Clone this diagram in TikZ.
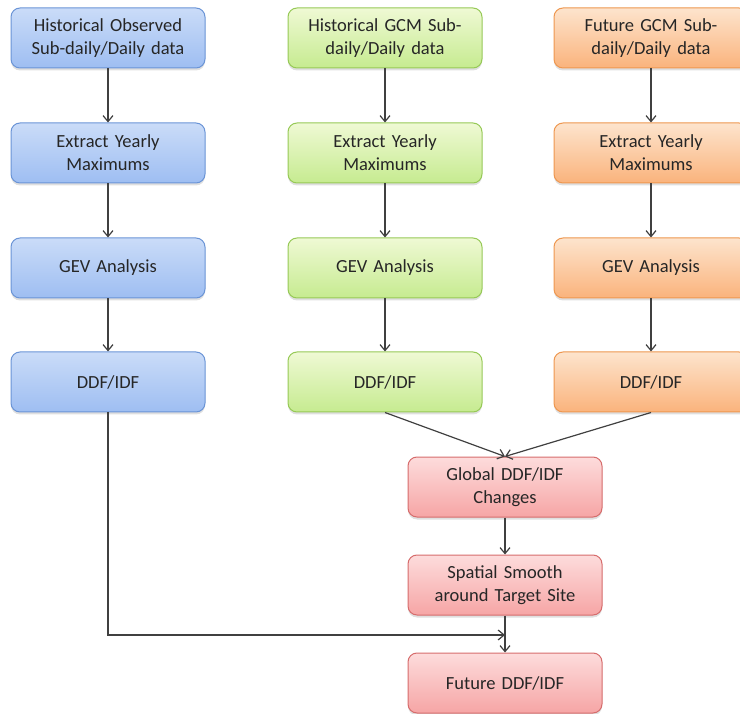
\documentclass[tikz,border=0pt]{standalone}
\usepackage{fontspec}
\setmainfont{Carlito}
\usetikzlibrary{shadows,arrows.meta}
\definecolor{obstop}{HTML}{CADCF8}
\definecolor{obsbot}{HTML}{9EBEF2}
\definecolor{obsline}{HTML}{6A94D6}
\definecolor{histop}{HTML}{EFF9D4}
\definecolor{hisbot}{HTML}{C6EB90}
\definecolor{hisline}{HTML}{96C956}
\definecolor{futtop}{HTML}{FDE4CD}
\definecolor{futbot}{HTML}{FAB37C}
\definecolor{futline}{HTML}{EE9750}
\definecolor{chgtop}{HTML}{FDDCDC}
\definecolor{chgbot}{HTML}{F6A5A5}
\definecolor{chgline}{HTML}{D66C6C}
\definecolor{txt}{HTML}{262626}
\tikzset{
    stage/.style={rectangle,rounded corners=9pt,minimum width=194pt,minimum height=60pt,
        text width=190pt,align=center,text=txt,inner sep=0pt,line width=1pt,
        font=\fontsize{18.5}{23}\selectfont,
        drop shadow={opacity=.25,shadow xshift=0pt,shadow yshift=-2.5pt}},
    obsbox/.style={stage,draw=obsline,top color=obstop,bottom color=obsbot},
    hisbox/.style={stage,draw=hisline,top color=histop,bottom color=hisbot},
    futbox/.style={stage,draw=futline,top color=futtop,bottom color=futbot},
    chgbox/.style={stage,draw=chgline,top color=chgtop,bottom color=chgbot},
    flow/.style={draw=black!75,line width=1.2pt,-{Straight Barb[length=6pt,width=10pt]}}
}
\begin{document}
\begin{tikzpicture}[x=1pt,y=-1pt]
        \useasboundingbox (0,0) rectangle (740,714);
        % three input columns
        \node[obsbox] (o1) at (108,38) {Historical Observed\\Sub-daily/Daily data};
        \node[obsbox] (o2) at (108,153) {Extract Yearly\\Maximums};
        \node[obsbox] (o3) at (108,268) {GEV Analysis};
        \node[obsbox] (o4) at (108,382) {DDF/IDF};
        \node[hisbox] (h1) at (385,38) {Historical GCM Sub-\\daily/Daily data};
        \node[hisbox] (h2) at (385,153) {Extract Yearly\\Maximums};
        \node[hisbox] (h3) at (385,268) {GEV Analysis};
        \node[hisbox] (h4) at (385,382) {DDF/IDF};
        \node[futbox] (f1) at (651,38) {Future GCM Sub-\\daily/Daily data};
        \node[futbox] (f2) at (651,153) {Extract Yearly\\Maximums};
        \node[futbox] (f3) at (651,268) {GEV Analysis};
        \node[futbox] (f4) at (651,382) {DDF/IDF};
        % change and downscaling
        \node[chgbox] (c1) at (505,487) {Global DDF/IDF\\Changes};
        \node[chgbox] (c2) at (505,585) {Spatial Smooth\\around Target Site};
        \node[chgbox] (c3) at (505,683) {Future DDF/IDF};
        \coordinate (join) at (505,635);
        \foreach \c in {o,h,f}{
            \draw[flow] (\c1) -- (\c2);
            \draw[flow] (\c2) -- (\c3);
            \draw[flow] (\c3) -- (\c4);
        }
        \draw[flow] (h4.south) -- (c1.north);
        \draw[flow] (f4.south) -- (c1.north);
        \draw[flow] (c1) -- (c2);
        \draw[flow] (c2) -- (c3);
        \draw[flow] (o4.south) |- (join);
\end{tikzpicture}
\end{document}
